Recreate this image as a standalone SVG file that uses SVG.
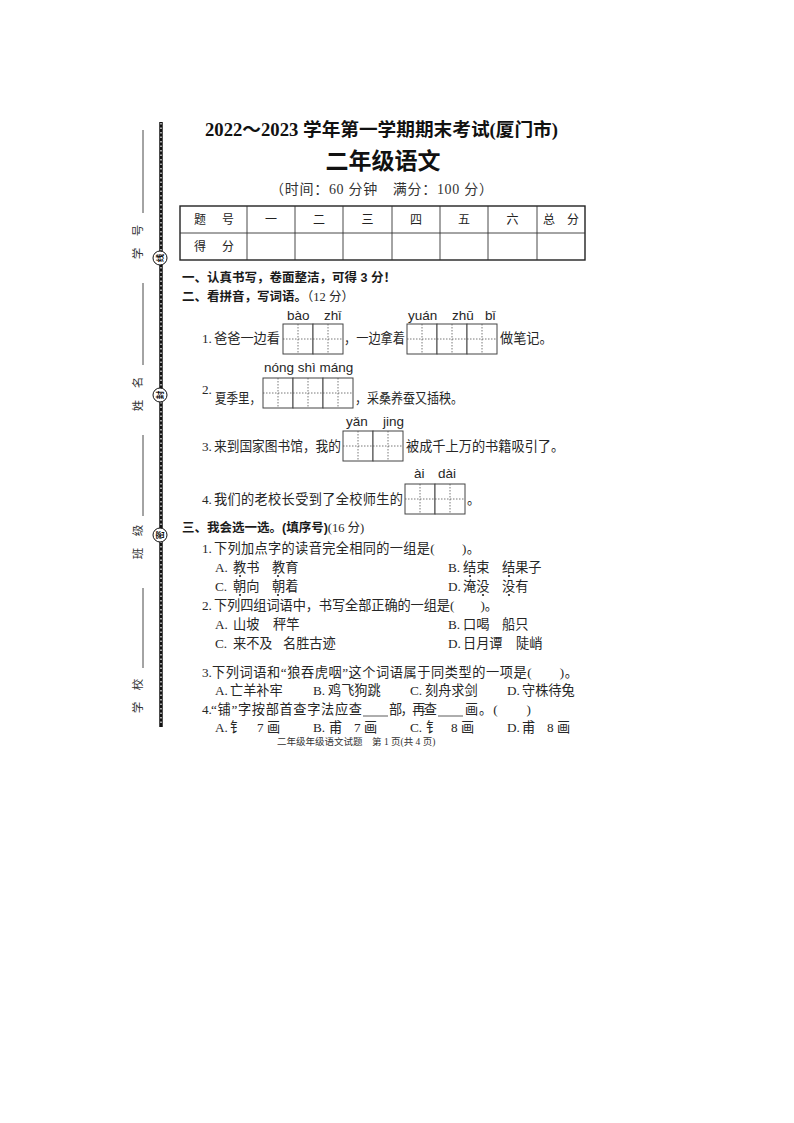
<svg xmlns="http://www.w3.org/2000/svg" xmlns:xlink="http://www.w3.org/1999/xlink" width="794" height="1123" viewBox="0 0 794 1123">
<style>
.t{font-family:"Liberation Serif","Noto Sans CJK SC",serif;font-size:13.2px;fill:#262626}
.h{font-family:"Liberation Sans","Noto Sans CJK SC",sans-serif;font-weight:bold;font-size:12.5px;fill:#1a1a1a}
.py{font-family:"Liberation Sans","DejaVu Sans",sans-serif;font-size:13.5px;fill:#262626}
.tb{font-family:"Liberation Sans","Noto Sans CJK SC",sans-serif;font-size:12px;fill:#222}
.lab{font-family:"Liberation Sans","Noto Sans CJK SC",sans-serif;font-size:11.5px;fill:#333}
.seal{font-family:"Liberation Sans","Noto Sans CJK SC",sans-serif;font-size:8.5px;fill:#111;font-weight:bold}
.ln{stroke:#333;stroke-width:0.9}
.dot{fill:#222}
</style>
<defs>
<g id="cell">
<rect x="0" y="0" width="30" height="30" fill="#fff" stroke="#444" stroke-width="1"/>
<line x1="15" y1="0" x2="15" y2="30" stroke="#555" stroke-width="0.8" stroke-dasharray="1.5 1.5"/>
<line x1="0" y1="15" x2="30" y2="15" stroke="#555" stroke-width="0.8" stroke-dasharray="1.5 1.5"/>
</g>
</defs>
<rect width="794" height="1123" fill="#fff"/>

<g id="binding">
<line x1="161" y1="122" x2="161" y2="727" stroke="#111" stroke-width="3.5"/>
<line x1="161" y1="123" x2="161" y2="726" stroke="#fff" stroke-width="1.2" stroke-dasharray="1.5 3"/>
<line class="ln" x1="143" y1="130" x2="143" y2="213"/>
<line class="ln" x1="143" y1="283" x2="143" y2="365"/>
<line class="ln" x1="143" y1="435" x2="143" y2="516"/>
<line class="ln" x1="143" y1="588" x2="143" y2="668"/>
<text class="lab" transform="translate(138,242) rotate(-90)" text-anchor="middle" dominant-baseline="central">学　号</text>
<text class="lab" transform="translate(138,394) rotate(-90)" text-anchor="middle" dominant-baseline="central">姓　名</text>
<text class="lab" transform="translate(138,542) rotate(-90)" text-anchor="middle" dominant-baseline="central">班　级</text>
<text class="lab" transform="translate(138,696) rotate(-90)" text-anchor="middle" dominant-baseline="central">学　校</text>
<circle cx="160" cy="258" r="7" fill="#fff" stroke="#111" stroke-width="1"/>
<text class="seal" transform="translate(160,258) rotate(-90)" text-anchor="middle" dominant-baseline="central">线</text>
<circle cx="160" cy="395" r="7" fill="#fff" stroke="#111" stroke-width="1"/>
<text class="seal" transform="translate(160,395) rotate(-90)" text-anchor="middle" dominant-baseline="central">封</text>
<circle cx="160" cy="535" r="7" fill="#fff" stroke="#111" stroke-width="1"/>
<text class="seal" transform="translate(160,535) rotate(-90)" text-anchor="middle" dominant-baseline="central">密</text>
</g>

<g id="header">
<text x="205" y="136" textLength="353" lengthAdjust="spacingAndGlyphs" style="font-family:'Liberation Serif','Noto Sans CJK SC',serif;font-weight:bold;font-size:18px;fill:#111">2022～2023 学年第一学期期末考试(厦门市)</text>
<text x="383" y="169" text-anchor="middle" style="font-family:'Liberation Serif','Noto Sans CJK SC',serif;font-weight:bold;font-size:23px;fill:#111">二年级语文</text>
<text x="270" y="194" textLength="223" lengthAdjust="spacing" style="font-family:'Liberation Serif','Noto Sans CJK SC',serif;font-size:14px;fill:#333">（时间：60 分钟　满分：100 分）</text>
</g>

<g id="score-table">
<rect x="180" y="206" width="405" height="54" fill="none" stroke="#222" stroke-width="1.4"/>
<line class="ln" x1="180" y1="233" x2="585" y2="233"/>
<line class="ln" x1="247" y1="206" x2="247" y2="260"/>
<line class="ln" x1="295" y1="206" x2="295" y2="260"/>
<line class="ln" x1="343" y1="206" x2="343" y2="260"/>
<line class="ln" x1="392" y1="206" x2="392" y2="260"/>
<line class="ln" x1="440" y1="206" x2="440" y2="260"/>
<line class="ln" x1="488" y1="206" x2="488" y2="260"/>
<line class="ln" x1="537" y1="206" x2="537" y2="260"/>
<text class="tb" x="194" y="224">题</text><text class="tb" x="222" y="224">号</text>
<text class="tb" x="271" y="224" text-anchor="middle">一</text>
<text class="tb" x="319" y="224" text-anchor="middle">二</text>
<text class="tb" x="367.5" y="224" text-anchor="middle">三</text>
<text class="tb" x="416" y="224" text-anchor="middle">四</text>
<text class="tb" x="464" y="224" text-anchor="middle">五</text>
<text class="tb" x="512.5" y="224" text-anchor="middle">六</text>
<text class="tb" x="543" y="224">总</text><text class="tb" x="567" y="224">分</text>
<text class="tb" x="194" y="251">得</text><text class="tb" x="222" y="251">分</text>
</g>

<g id="section-1">
<text class="h" x="182" y="282">一、认真书写，卷面整洁，可得 3 分！</text>
</g>

<g id="section-2">
<text x="182" y="301"><tspan class="h">二、看拼音，写词语。</tspan><tspan class="t" style="font-size:12.5px">（12 分）</tspan></text>
<text class="py" y="320"><tspan x="287">bào</tspan><tspan x="324">zhǐ</tspan><tspan x="408">yuán</tspan><tspan x="452">zhū</tspan><tspan x="485">bǐ</tspan></text>
<use xlink:href="#cell" x="283" y="324"/><use xlink:href="#cell" x="313" y="324"/>
<use xlink:href="#cell" x="407" y="324"/><use xlink:href="#cell" x="437" y="324"/><use xlink:href="#cell" x="467" y="324"/>
<text class="t" x="202" y="343">1.</text>
<text class="t" x="214" y="343" textLength="66" lengthAdjust="spacingAndGlyphs">爸爸一边看</text>
<text class="t" x="344" y="343" textLength="61" lengthAdjust="spacingAndGlyphs">，一边拿着</text>
<text class="t" x="500" y="343">做笔记。</text>

<text class="py" x="264" y="372">nóng shì máng</text>
<use xlink:href="#cell" x="263" y="378"/><use xlink:href="#cell" x="293" y="378"/><use xlink:href="#cell" x="323" y="378"/>
<text class="t" x="202" y="394">2.</text>
<text class="t" x="215" y="403" textLength="46" lengthAdjust="spacingAndGlyphs">夏季里，</text>
<text class="t" x="355" y="403" textLength="108" lengthAdjust="spacingAndGlyphs">，采桑养蚕又插秧。</text>

<text class="py" y="426"><tspan x="346">yǎn</tspan><tspan x="383">jing</tspan></text>
<use xlink:href="#cell" x="343" y="431"/><use xlink:href="#cell" x="373" y="431"/>
<text class="t" x="202" y="451">3.</text>
<text class="t" x="214" y="451" textLength="127" lengthAdjust="spacingAndGlyphs">来到国家图书馆，我的</text>
<text class="t" x="406" y="451">被成千上万的书籍吸引了。</text>

<text class="py" y="478"><tspan x="414">ài</tspan><tspan x="438">dài</tspan></text>
<use xlink:href="#cell" x="405" y="484"/><use xlink:href="#cell" x="435" y="484"/>
<text class="t" x="202" y="504">4.</text>
<text class="t" x="214" y="504" textLength="189" lengthAdjust="spacing">我们的老校长受到了全校师生的</text>
<text class="t" x="467" y="504">。</text>
</g>

<g id="section-3">
<text x="182" y="532"><tspan class="h">三、我会选一选。(填序号)</tspan><tspan class="t" style="font-size:12.5px">(16 分)</tspan></text>
<text class="t" x="202" y="553">1.</text>
<text class="t" x="214" y="553" textLength="266" lengthAdjust="spacing">下列加点字的读音完全相同的一组是(　　)。</text>
<text class="t" y="572"><tspan x="215">A.</tspan><tspan x="233">教书</tspan><tspan x="272">教育</tspan><tspan x="448">B.</tspan><tspan x="463">结束</tspan><tspan x="502">结果子</tspan></text>
<circle class="dot" cx="240" cy="576" r="1.1"/><circle class="dot" cx="278" cy="576" r="1.1"/>
<circle class="dot" cx="470" cy="576" r="1.1"/><circle class="dot" cx="509" cy="576" r="1.1"/>
<text class="t" y="591"><tspan x="215">C.</tspan><tspan x="233">朝向</tspan><tspan x="272">朝着</tspan><tspan x="448">D.</tspan><tspan x="463">淹没</tspan><tspan x="502">没有</tspan></text>
<circle class="dot" cx="240" cy="595" r="1.1"/><circle class="dot" cx="278" cy="595" r="1.1"/>
<circle class="dot" cx="483" cy="595" r="1.1"/><circle class="dot" cx="509" cy="595" r="1.1"/>
<text class="t" x="202" y="610">2.</text>
<text class="t" x="214" y="610" textLength="284" lengthAdjust="spacing">下列四组词语中，书写全部正确的一组是(　　)。</text>
<text class="t" y="629"><tspan x="215">A.</tspan><tspan x="233">山坡</tspan><tspan x="273">秤竿</tspan><tspan x="448">B.</tspan><tspan x="463">口喝</tspan><tspan x="502">船只</tspan></text>
<text class="t" y="648"><tspan x="215">C.</tspan><tspan x="233">来不及</tspan><tspan x="283">名胜古迹</tspan><tspan x="448">D.</tspan><tspan x="463">日月谭</tspan><tspan x="516">陡峭</tspan></text>
<text class="t" x="202" y="677">3.</text>
<text class="t" x="212" y="677" textLength="366" lengthAdjust="spacing">下列词语和“狼吞虎咽”这个词语属于同类型的一项是(　　)。</text>
<text class="t" y="695"><tspan x="215">A.</tspan><tspan x="230">亡羊补牢</tspan><tspan x="313">B.</tspan><tspan x="328">鸡飞狗跳</tspan><tspan x="410">C.</tspan><tspan x="425">刻舟求剑</tspan><tspan x="507">D.</tspan><tspan x="522">守株待兔</tspan></text>
<text class="t" x="202" y="714">4.</text>
<text class="t" x="211" y="714" textLength="151" lengthAdjust="spacing">“铺”字按部首查字法应查</text>
<text class="t" x="389" y="714" textLength="48" lengthAdjust="spacing">部，再查</text>
<text class="t" x="465" y="714" textLength="66" lengthAdjust="spacing">画。(　　)</text>
<line x1="363" y1="716" x2="388" y2="716" stroke="#333" stroke-width="0.8"/>
<line x1="438" y1="716" x2="463" y2="716" stroke="#333" stroke-width="0.8"/>
<text class="t" y="732"><tspan x="215">A.</tspan><tspan x="230">钅</tspan><tspan x="257">7 画</tspan><tspan x="313">B.</tspan><tspan x="329">甫</tspan><tspan x="354">7 画</tspan><tspan x="410">C.</tspan><tspan x="426">钅</tspan><tspan x="451">8 画</tspan><tspan x="507">D.</tspan><tspan x="522">甫</tspan><tspan x="547">8 画</tspan></text>
</g>

<g id="footer">
<text x="277" y="745" style="font-family:'Liberation Serif','Noto Sans CJK SC',serif;font-size:9.5px;fill:#333">二年级年级语文试题　第 1 页(共 4 页)</text>
</g>
</svg>
